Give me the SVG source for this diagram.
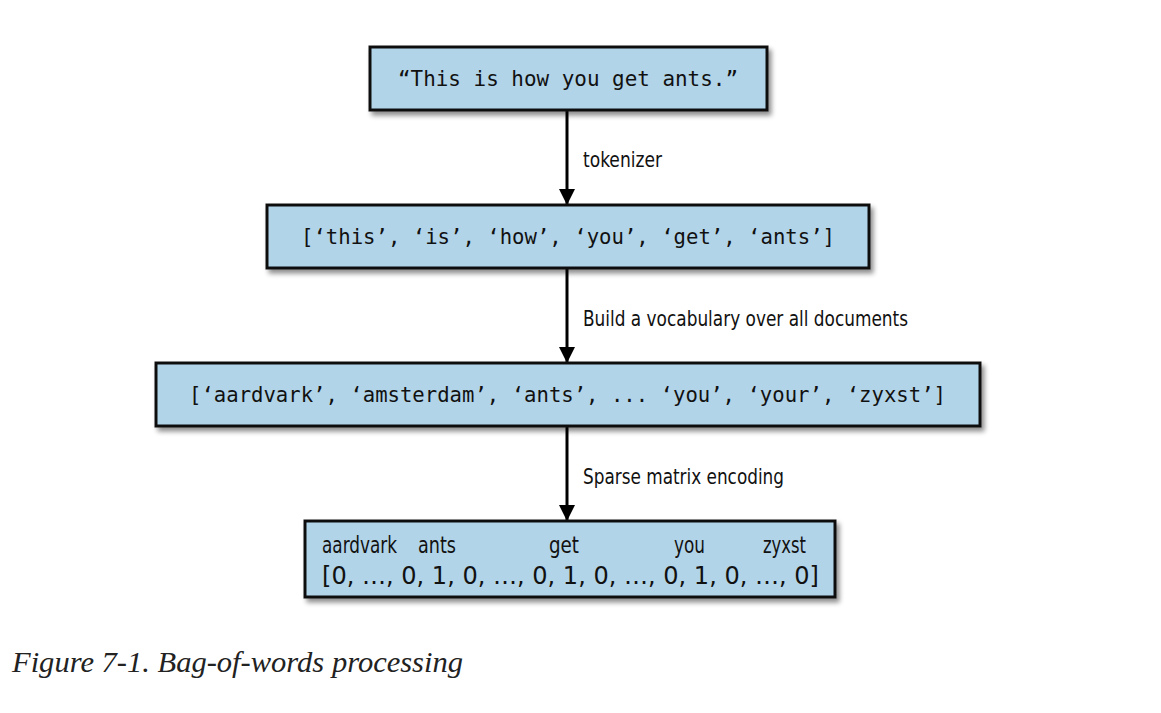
<svg xmlns="http://www.w3.org/2000/svg" width="1161" height="713" viewBox="0 0 1161 713">
<style>
.box{fill:#b2d4e9;stroke:#111;stroke-width:3;filter:url(#sh)}
.mono{font-family:"DejaVu Sans Mono","Liberation Mono",monospace;font-size:21px;fill:#111}
.cond{font-family:"Liberation Sans Narrow","DejaVu Sans Condensed","Liberation Sans",sans-serif;font-size:23px;fill:#111}
.big{font-size:25px}
.lbl{font-family:"Liberation Sans Narrow","DejaVu Sans Condensed","Liberation Sans",sans-serif;font-size:22px;fill:#111}
.cap{font-family:"Liberation Serif","DejaVu Serif",serif;font-style:italic;font-size:29px;fill:#222}
.conn{stroke:#000;stroke-width:3;fill:none;marker-end:url(#ah)}
</style>
<defs>
<filter id="sh" x="-5%" y="-20%" width="115%" height="150%">
<feGaussianBlur in="SourceAlpha" stdDeviation="2.5"/>
<feOffset dx="3" dy="4" result="b"/>
<feComponentTransfer><feFuncA type="linear" slope="0.45"/></feComponentTransfer>
<feMerge><feMergeNode/><feMergeNode in="SourceGraphic"/></feMerge>
</filter>
<marker id="ah" markerUnits="userSpaceOnUse" markerWidth="18" markerHeight="18" refX="16" refY="8" orient="auto">
<path d="M0,0 L16,8 L0,16 Z" fill="#000"/>
</marker>
</defs>
<g id="connectors">
<line class="conn" x1="567" y1="110" x2="567" y2="205"/>
<line class="conn" x1="567" y1="268" x2="567" y2="363"/>
<line class="conn" x1="567" y1="426" x2="567" y2="521"/>
<text class="lbl" x="583" y="167" textLength="79" lengthAdjust="spacingAndGlyphs">tokenizer</text>
<text class="lbl" x="583" y="326" textLength="325" lengthAdjust="spacingAndGlyphs">Build a vocabulary over all documents</text>
<text class="lbl" x="583" y="484" textLength="201" lengthAdjust="spacingAndGlyphs">Sparse matrix encoding</text>
</g>
<g id="node-sentence">
<rect class="box" x="370" y="47" width="397" height="63"/>
<text class="mono" x="398" y="86" textLength="340" lengthAdjust="spacingAndGlyphs">“This is how you get ants.”</text>
</g>
<g id="node-tokens">
<rect class="box" x="267" y="205" width="602" height="63"/>
<text class="mono" x="301" y="244" textLength="534" lengthAdjust="spacingAndGlyphs">[‘this’, ‘is’, ‘how’, ‘you’, ‘get’, ‘ants’]</text>
</g>
<g id="node-vocab">
<rect class="box" x="156" y="363" width="824" height="63"/>
<text class="mono" x="189" y="402" textLength="757" lengthAdjust="spacingAndGlyphs">[‘aardvark’, ‘amsterdam’, ‘ants’, ... ‘you’, ‘your’, ‘zyxst’]</text>
</g>
<g id="node-matrix">
<rect class="box" x="305" y="521" width="530" height="76"/>
<text class="cond" x="322" y="553" textLength="75" lengthAdjust="spacingAndGlyphs">aardvark</text>
<text class="cond" x="418" y="553" textLength="38" lengthAdjust="spacingAndGlyphs">ants</text>
<text class="cond" x="549" y="553" textLength="30" lengthAdjust="spacingAndGlyphs">get</text>
<text class="cond" x="674" y="553" textLength="31" lengthAdjust="spacingAndGlyphs">you</text>
<text class="cond" x="763" y="553" textLength="43" lengthAdjust="spacingAndGlyphs">zyxst</text>
<text class="cond big" x="322" y="584" textLength="497" lengthAdjust="spacingAndGlyphs">[0, …, 0, 1, 0, …, 0, 1, 0, …, 0, 1, 0, …, 0]</text>
</g>
<text class="cap" x="12" y="672" textLength="451" lengthAdjust="spacingAndGlyphs">Figure 7-1. Bag-of-words processing</text>
</svg>
